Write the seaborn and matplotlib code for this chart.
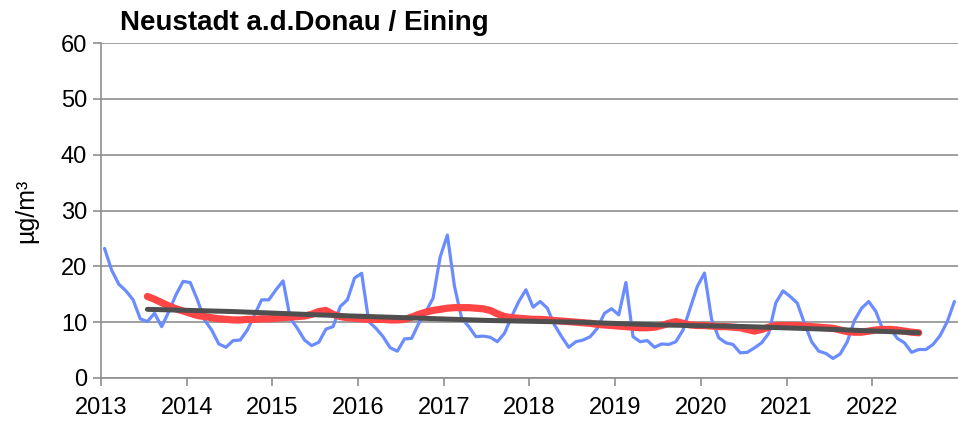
import numpy as np
import pandas as pd
import matplotlib
matplotlib.use("Agg")
import matplotlib.pyplot as plt
import seaborn as sns

# Monthly mean values 2013-2022
monthly = [
    23.2, 19.3, 16.8, 15.6, 14.0, 10.6, 10.1, 11.6, 9.2, 11.9, 14.9, 17.3,   # 2013
    17.1, 14.0, 10.4, 8.6, 6.1, 5.5, 6.7, 6.8, 8.6, 11.3, 14.0, 14.0,        # 2014
    15.8, 17.4, 10.7, 8.9, 6.8, 5.8, 6.4, 8.75, 9.2, 12.8, 14.0, 17.9,       # 2015
    18.75, 10.1, 8.9, 7.4, 5.4, 4.8, 7.0, 7.1, 9.8, 11.9, 14.3, 21.7,        # 2016
    25.6, 16.4, 10.7, 9.2, 7.4, 7.5, 7.3, 6.5, 8.0, 11.0, 13.7, 15.8,        # 2017
    12.7, 13.7, 12.5, 9.5, 7.4, 5.5, 6.5, 6.8, 7.4, 8.9, 11.6, 12.4,         # 2018
    11.3, 17.1, 7.4, 6.5, 6.7, 5.5, 6.1, 6.0, 6.5, 8.6, 12.5, 16.4,          # 2019
    18.8, 10.5, 7.2, 6.3, 6.0, 4.5, 4.6, 5.4, 6.3, 8.0, 13.5, 15.6,          # 2020
    14.6, 13.4, 9.8, 6.5, 4.8, 4.4, 3.5, 4.3, 6.5, 10.3, 12.5, 13.7,         # 2021
    11.9, 8.6, 8.9, 7.1, 6.3, 4.6, 5.1, 5.1, 6.0, 7.6, 10.1, 13.7,           # 2022
]

# 12-month running mean, Jul 2013 - Jul 2022
running = [
    14.6, 14.1, 13.5, 12.9, 12.4, 12.0,
    11.6, 11.2, 11.0, 10.8, 10.6, 10.5, 10.4, 10.4, 10.5, 10.5, 10.6, 10.6,
    10.7, 10.8, 10.9, 11.0, 11.1, 11.4, 11.9, 12.1, 11.4, 11.0, 10.8, 10.7,
    10.6, 10.5, 10.5, 10.5, 10.4, 10.4, 10.5, 10.9, 11.4, 11.8, 12.1, 12.3,
    12.5, 12.6, 12.6, 12.6, 12.5, 12.4, 12.1, 11.5, 11.0, 10.8, 10.7, 10.6,
    10.5, 10.5, 10.4, 10.3, 10.2, 10.1, 10.0, 9.9, 9.8, 9.6, 9.5, 9.4,
    9.3, 9.2, 9.1, 9.0, 9.0, 9.1, 9.4, 9.8, 10.1, 9.8, 9.5, 9.4,
    9.4, 9.3, 9.2, 9.2, 9.1, 9.0, 8.7, 8.4, 8.7, 9.1, 9.4, 9.4,
    9.4, 9.4, 9.3, 9.2, 9.1, 9.0, 8.9, 8.6, 8.3, 8.2, 8.2, 8.4,
    8.6, 8.7, 8.7, 8.6, 8.4, 8.2, 8.1,
]

# Trend, mid-year values Jul 2013 - Jul 2022
trend = [12.3, 11.9, 11.3, 10.8, 10.3, 10.0, 9.5, 9.2, 8.7, 8.1]

years = list(range(2013, 2023))

# decimal-year positions (mid month)
t_month = 2013 + (np.arange(len(monthly)) + 0.5) / 12
df_month = pd.DataFrame({"t": t_month, "v": monthly})
df_run = pd.DataFrame({"t": t_month[6:6 + len(running)], "v": running})
df_trend = pd.DataFrame({"t": [y + 6.5 / 12 for y in years[:len(trend)]], "v": trend})

sns.set_style("white")
plt.rcParams["font.family"] = ["Liberation Sans", "DejaVu Sans"]

fig = plt.figure(figsize=(9.58, 4.26), dpi=100)
ax = fig.add_axes([0.1054, 0.1127, 0.8946, 0.7863])

sns.lineplot(data=df_month, x="t", y="v", ax=ax, color="#6a8cff", linewidth=2.3, zorder=3)
sns.lineplot(data=df_run, x="t", y="v", ax=ax, color="#ff4545", linewidth=5.2, zorder=4,
             solid_capstyle="round")
sns.lineplot(data=df_trend, x="t", y="v", ax=ax, color="#4f4f4f", linewidth=3.6, zorder=5,
             solid_capstyle="round")

ax.set_xlim(2013, 2023)
ax.set_ylim(0, 60)
ax.set_xticks(years)
ax.set_xticklabels([str(y) for y in years])
ax.set_yticks(range(0, 61, 10))
ax.yaxis.grid(True, color="#8f8f8f", linewidth=1.2)
ax.set_axisbelow(True)
ax.tick_params(axis="both", labelsize=17, colors="#8f8f8f", labelcolor="black",
               length=6, width=1.2, direction="out", bottom=True, left=True)
ax.tick_params(axis="x", pad=8)
ax.tick_params(axis="y", pad=4)
for s in ["top", "right"]:
    ax.spines[s].set_visible(False)
for s in ["left", "bottom"]:
    ax.spines[s].set_color("#8f8f8f")
    ax.spines[s].set_linewidth(1.2)

ax.set_xlabel("")
ax.set_ylabel("µg/m³", fontsize=18, labelpad=16, color="black")
ax.text(0.022, 1.02, "Neustadt a.d.Donau / Eining", transform=ax.transAxes,
        fontsize=20, fontweight="bold", ha="left", va="bottom", color="black")

plt.savefig("out.png", dpi=100)
